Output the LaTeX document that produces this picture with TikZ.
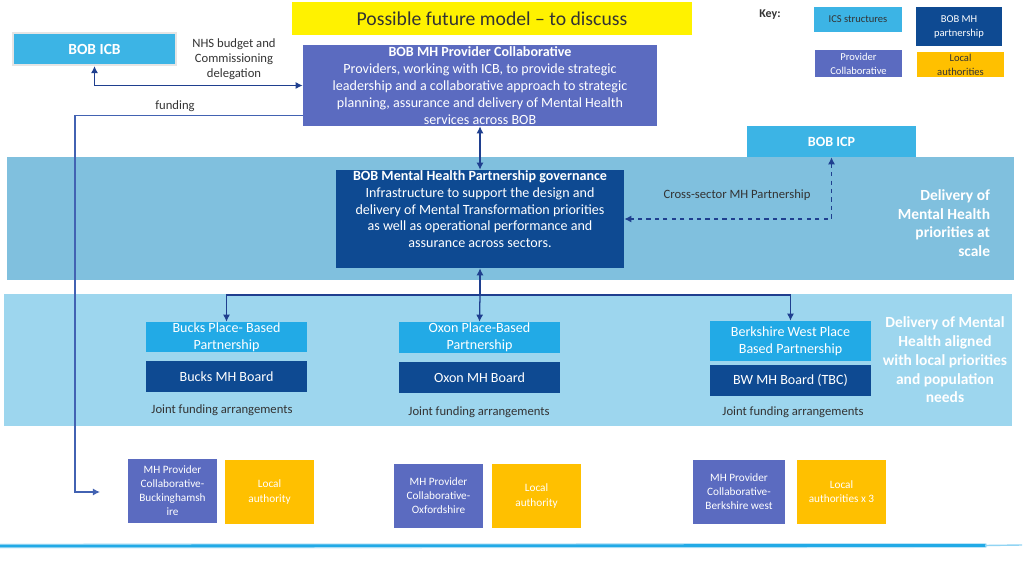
\documentclass[tikz,border=0pt]{standalone}
\usepackage{fontspec}
\setmainfont{Carlito}
\usetikzlibrary{arrows.meta, positioning, calc}
\definecolor{icsblue}{HTML}{3CB4E5}
\definecolor{placeblue}{HTML}{22AAE6}
\definecolor{mhnavy}{HTML}{0E4A92}
\definecolor{pcviolet}{HTML}{5B6BC0}
\definecolor{laamber}{HTML}{FFC000}
\definecolor{bandscale}{HTML}{80C0DE}
\definecolor{bandlocal}{HTML}{9DD6EE}
\definecolor{linkblue}{HTML}{1F3F8F}
\definecolor{fundblue}{HTML}{4262B2}
\definecolor{inkgrey}{HTML}{333333}
\tikzset{
    panel/.style={
        rectangle, inner sep=0pt,
        align=center, text=white,
        font=\fontsize{10}{12}\selectfont
    },
    placepanel/.style={
        panel, fill=placeblue,
        minimum width=4.025cm, minimum height=0.75cm
    },
    boardpanel/.style={
        panel, fill=mhnavy,
        minimum width=4.025cm, minimum height=0.775cm
    },
    smallpanel/.style={
        panel, minimum width=2.225cm, minimum height=1.6cm,
        font=\fontsize{8}{10}\selectfont
    },
    keypanel/.style={
        panel, font=\fontsize{7.5}{10}\selectfont
    },
    note/.style={
        font=\fontsize{9}{10.7}\selectfont,
        text=inkgrey, align=center
    },
    bandtext/.style={
        font=\fontsize{11}{13.3}\selectfont\bfseries,
        text=white
    },
    conn/.style={{Latex[length=5pt,width=5pt]}-{Latex[length=5pt,width=5pt]}, line width=0.9pt, draw=linkblue},
    onearrow/.style={-{Latex[length=5pt,width=5pt]}, line width=0.9pt, draw=linkblue}
}
\begin{document}
\begin{tikzpicture}[x=0.025cm, y=-0.025cm]
    \useasboundingbox (0,0) rectangle (1024,576);

    % bandas de fondo
    \fill[bandscale] (7,157) rectangle (1014,280);
    \fill[bandlocal] (4,294) rectangle (1012,426);

    \node[panel, fill=yellow, text=inkgrey, minimum width=10cm, minimum height=0.825cm,
        font=\fontsize{14}{17}\selectfont] (title) at (492,18.5) {Possible future model -- to discuss};

    % leyenda
    \node[font=\fontsize{8.5}{10}\selectfont\bfseries, text=inkgrey] (keylabel) at (770,15) {Key:};
    \node[keypanel, fill=icsblue, text=inkgrey, minimum width=2.2cm, minimum height=0.625cm] (keyics) at (858,19.5) {ICS structures};
    \node[keypanel, fill=mhnavy, minimum width=2.15cm, minimum height=0.975cm] (keymh) at (959,26.5) {BOB MH\\partnership};
    \node[keypanel, fill=pcviolet, minimum width=2.175cm, minimum height=0.675cm] (keypc) at (858.5,63.5) {Provider\\Collaborative};
    \node[keypanel, fill=laamber, text=inkgrey, minimum width=2.175cm, minimum height=0.625cm] (keyla) at (960.5,64.5) {Local\\authorities};

    % nivel sistema
    \node[panel, fill=icsblue, draw=gray!20, line width=1.5pt, minimum width=4.075cm, minimum height=0.8cm,
        font=\fontsize{11}{13}\selectfont\bfseries] (icb) at (94.5,49) {BOB ICB};

    \node[panel, fill=pcviolet, minimum width=8.85cm, minimum height=2.025cm] (pc) at (480,85.5) {
        \textbf{BOB MH Provider Collaborative}\\
        Providers, working with ICB, to provide strategic\\
        leadership and a collaborative approach to strategic\\
        planning, assurance and delivery of Mental Health\\
        services across BOB
    };

    \node[panel, fill=icsblue, minimum width=4.225cm, minimum height=0.775cm,
        font=\fontsize{10}{12}\selectfont\bfseries] (icp) at (831.5,141.5) {BOB ICP};

    \node[panel, fill=mhnavy, minimum width=7.2cm, minimum height=2.45cm, text depth=14pt] (gov) at (480,219) {
        \textbf{BOB Mental Health Partnership governance}\\
        Infrastructure to support the design and\\
        delivery of Mental Transformation priorities\\
        as well as operational performance and\\
        assurance across sectors.
    };

    % nivel local
    \node[placepanel] (bucksplace) at (226.5,337) {Bucks Place- Based\\Partnership};
    \node[boardpanel] (bucksboard) at (226.5,376.5) {Bucks MH Board};
    \node[placepanel, minimum height=0.775cm] (oxonplace) at (479.5,337.5) {Oxon Place-Based\\Partnership};
    \node[boardpanel] (oxonboard) at (479.5,377.5) {Oxon MH Board};
    \node[placepanel, minimum height=1cm] (bwplace) at (790.5,341) {Berkshire West Place\\Based Partnership};
    \node[boardpanel] (bwboard) at (790.5,380.5) {BW MH Board (TBC)};

    \node[smallpanel, fill=pcviolet] (buckspc) at (172.5,491) {MH Provider\\Collaborative-\\Buckinghamsh\\ire};
    \node[smallpanel, fill=laamber] (bucksla) at (269.5,492) {Local\\authority};
    \node[smallpanel, fill=pcviolet] (oxonpc) at (438.5,496) {MH Provider\\Collaborative-\\Oxfordshire};
    \node[smallpanel, fill=laamber] (oxonla) at (536.5,496) {Local\\authority};
    \node[smallpanel, fill=pcviolet, minimum width=2.3cm] (bwpc) at (739,492) {MH Provider\\Collaborative-\\Berkshire west};
    \node[smallpanel, fill=laamber] (bwla) at (841.5,492) {Local\\authorities x 3};

    % conectores
    \coordinate (split) at (480,295);
    \coordinate (fundend) at (100,492);

    \draw[conn] (icb.south) |- (pc.west);
    \draw[onearrow, draw=fundblue] ($(pc.south west)+(0,-11)$) -| ($(fundend)+(-25,0)$) -- (fundend);
    \draw[conn] (pc.south) -- (gov.north);
    \draw[conn, dashed] (icp.south) |- (gov.east);
    \draw[{Latex[length=5pt,width=5pt]}-, line width=0.9pt, draw=linkblue] (gov.south) -- (split);
    \draw[onearrow] (split) -| (bucksplace.north);
    \draw[onearrow] (split) -- (oxonplace.north);
    \draw[onearrow] (split) -| (bwplace.north);

    % etiquetas
    \node[note] (budget) at (234,59) {NHS budget and\\Commissioning\\delegation};
    \node[note] (funding) at (175,106) {funding};
    \node[note] (crosssector) at (737,195) {Cross-sector MH Partnership};
    \node[note] (bucksjoint) at (222,410) {Joint funding arrangements};
    \node[note] (oxonjoint) at (479,412) {Joint funding arrangements};
    \node[note] (bwjoint) at (793,412) {Joint funding arrangements};

    \node[bandtext, align=right, anchor=east] (scaletext) at (995,223) {Delivery of\\Mental Health\\priorities at\\scale};
    \node[bandtext, align=center] (localtext) at (945,360) {Delivery of Mental\\Health aligned\\with local priorities\\and population\\needs};

    % linea inferior
    \draw[placeblue!30, line width=3.5pt, line cap=round] (0,546) -- (985,545.5);
    \draw[placeblue, line width=2pt, line cap=round] (0,546) -- (985,545.5);
    \draw[placeblue!50, line width=1pt] (985,545.5) -- (1022,545);

\end{tikzpicture}
\end{document}
